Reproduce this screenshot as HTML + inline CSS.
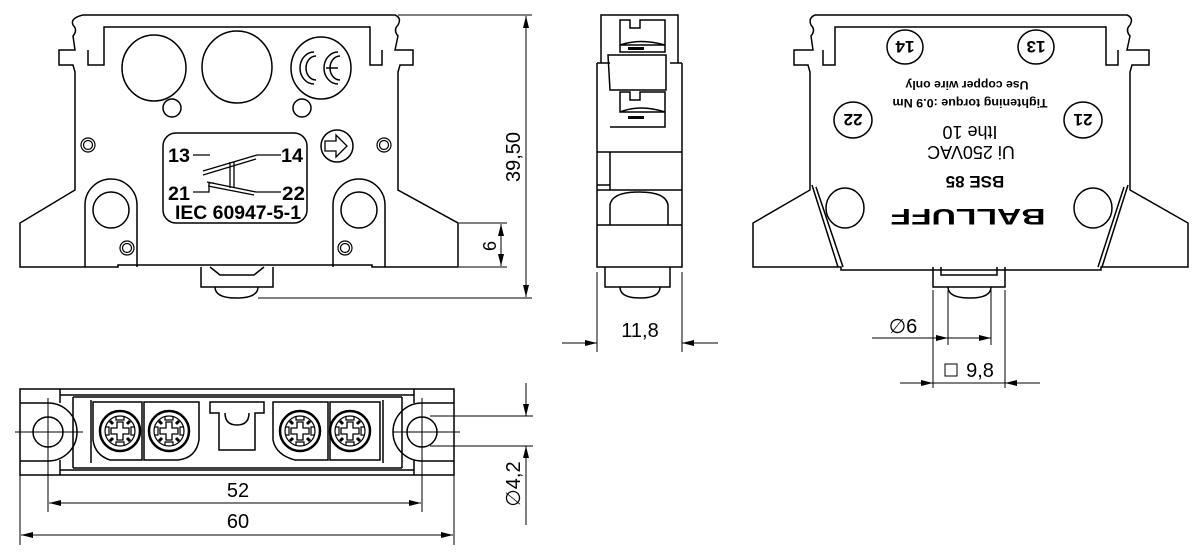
<!DOCTYPE html>
<html><head><meta charset="utf-8"><style>
html,body{margin:0;padding:0;background:#fff;}
svg{display:block;}
text{font-family:"Liberation Sans",sans-serif;}
</style></head><body>
<svg width="1200" height="558" viewBox="0 0 1200 558" xmlns="http://www.w3.org/2000/svg">
<defs>
<marker id="a" viewBox="0 0 12 6" refX="12" refY="3" markerWidth="12" markerHeight="6" orient="auto-start-reverse" markerUnits="userSpaceOnUse"><path d="M0,0 L12,3 L0,6 z" fill="#000"/></marker>
<g id="screw">
<circle r="20" fill="none" stroke="#000" stroke-width="2.5"/>
<circle r="15" fill="none" stroke="#000" stroke-width="1.2"/>
<path d="M-4,-15 V-11 H4 V-15 M-4,15 V11 H4 V15 M-15,-4 H-11 V4 H-15 M15,-4 H11 V4 H15" fill="none" stroke="#000" stroke-width="1.2"/>
<path d="M-10,-10 L-7,-7 M10,-10 L7,-7 M-10,10 L-7,7 M10,10 L7,7" stroke="#000" stroke-width="3"/>
<path d="M-3,-9 H3 V-3 H9 V3 H3 V9 H-3 V3 H-9 V-3 H-3 Z" fill="none" stroke="#000" stroke-width="1.3"/>
</g>
<g id="dc"><circle r="7" fill="none" stroke="#000" stroke-width="1.2"/><circle r="4.5" fill="none" stroke="#000" stroke-width="1.2"/></g>
</defs>
<g fill="none" stroke="#000" stroke-width="1.5">
<path d="M83,15 H395 Q402,18 398,25 Q393,30 398,36 L395,50 H413 V65 H400 L398,72 V190 L458,223 V267 H372 V265 H118 V267 H20 V223 L75,190 V72 L73,65 H59 V50 H75 L73,36 Q78,30 73,25 Q70,18 83,15 Z"/>
<path d="M88,50 V65 H104 V27 H370 V65 H382 V50"/>
<path d="M85,267 V205 A26,26 0 0 1 137,205 V267 M333,267 V205 A26,26 0 0 1 385,205 V267"/>
<circle cx="111" cy="210" r="18"/><circle cx="359" cy="210" r="18"/>
<ellipse cx="154" cy="68" rx="32" ry="33"/><ellipse cx="237" cy="67" rx="35" ry="36"/><ellipse cx="321" cy="68" rx="30" ry="31"/>
<path d="M314,52 A14,16 0 1 0 314,84 M316,56 A10,12 0 1 0 316,80 M338,52 A14,16 0 1 0 338,84 M340,56 A10,12 0 1 0 340,80 M326,68 H338"/>
<circle cx="172" cy="108" r="9"/><circle cx="302" cy="108" r="9"/>
<rect x="163" y="133" width="144" height="90" rx="13"/>
<circle cx="337" cy="146" r="16"/>
<path d="M325,141 H336 V135 L347,146 L336,157 V151 H325 Z" stroke-width="1.3"/>
<path d="M201,267 V287 H273 V267 M210,267 L220,275 H254 L264,267"/>
<path d="M215,287 Q215,298 236,298 Q258,298 258,287"/>
<path d="M193,155 H210 M257,155 H281 M203,171 L257,155 M203,175 L256,159 M193,192 H209 V183 H214 M207,182 L256,192 H281 M208,186 L254,195 M230,162 V188 M234,162 V188" stroke-width="1.3"/>
</g>
<use href="#dc" x="88" y="145"/><use href="#dc" x="384" y="145"/><use href="#dc" x="127" y="248"/><use href="#dc" x="345" y="248"/>
<g font-weight="bold" font-size="19" fill="#000">
<text x="168" y="162" textLength="22" lengthAdjust="spacingAndGlyphs">13</text>
<text x="281" y="162" textLength="22" lengthAdjust="spacingAndGlyphs">14</text>
<text x="168" y="200" textLength="22" lengthAdjust="spacingAndGlyphs">21</text>
<text x="282" y="200" textLength="23" lengthAdjust="spacingAndGlyphs">22</text>
<text x="175" y="219" textLength="126" lengthAdjust="spacingAndGlyphs">IEC  60947-5-1</text>
</g>
<g stroke="#000" stroke-width="1" fill="none">
<path d="M398,15 H532 M258,298 H532 M459,223 H507 M459,267 H507"/>
<path d="M526,16 V297" marker-start="url(#a)" marker-end="url(#a)"/>
<path d="M501,224 V266" marker-start="url(#a)" marker-end="url(#a)"/>
</g>
<text transform="translate(520,157) rotate(-90)" text-anchor="middle" font-size="20" font-weight="100" fill="#000">39,50</text>
<text transform="translate(496,246) rotate(-90)" text-anchor="middle" font-size="18" fill="#000">6</text>

<g fill="none" stroke="#000" stroke-width="1.5">
<path d="M597,63 V267 H682 V63 M601,63 V15 H678 V63"/>
<path d="M597,152 H682 M597,190 H682 M597,225 H682 M597,63 H610 M670,63 H682 M610,152 V190 M597,185 H610"/>
<path d="M610,225 V205 Q612,192 639,192 Q666,192 668,205 V225"/>
<path d="M620,20 H630 V28 H640 V20 H665 V45 H620 Z M620,45 Q640,38 665,45 L665,52 H620 Z"/>
<path d="M620,92 H630 V100 H640 V92 H665 V112 H620 Z M620,112 Q640,104 665,112 L665,127 H610 M608,55 H666 V90 H610 Z"/>
<path d="M605,267 V287 H670 V267 M620,287 Q620,298 640,298 Q660,298 660,287"/>
</g>
<rect x="628" y="47" width="16" height="3" fill="#000"/><rect x="628" y="116" width="16" height="3" fill="#000"/>
<g stroke="#000" stroke-width="1" fill="none">
<path d="M597,272 V352 M682,272 V352 M562,343 H597 M682,343 H718"/>
<path d="M577,343 H597" marker-end="url(#a)"/><path d="M703,343 H682" marker-end="url(#a)"/>
</g>
<text x="640" y="337" text-anchor="middle" font-size="20" font-weight="100" fill="#000">11,8</text>

<g fill="none" stroke="#000" stroke-width="1.5">
<path d="M815,15 H1127 Q1134,18 1130,25 Q1125,30 1130,36 L1127,50 H1149 V65 H1132 L1130,72 V190 L1188,223 V267 H1101 V270 H841 V267 H753 V223 L810,190 V72 L808,65 H794 V50 H813 L811,36 Q816,30 811,25 Q808,18 815,15 Z"/>
<path d="M823,50 V65 H835 V27 H1106 V65 H1118 V50"/>
<path d="M812,185 L838,267 M816,187 L843,267 M1128,185 L1102,267 M1124,187 L1098,267"/>
<ellipse cx="905" cy="47" rx="18" ry="17"/><ellipse cx="1036" cy="47" rx="18" ry="17"/>
<ellipse cx="853" cy="120" rx="19" ry="18"/><ellipse cx="1083" cy="120" rx="19" ry="18"/>
<ellipse cx="845" cy="208" rx="19" ry="20"/><ellipse cx="1093" cy="208" rx="19" ry="20"/>
<path d="M933,267 V287 H1005 V267 M941,267 V275 H997 V267"/>
<path d="M948,287 Q948,298 970,298 Q991,298 991,287"/>
</g>
<g fill="#000" text-anchor="middle" font-weight="bold">
<text transform="translate(905,47) rotate(180)" dy="6" font-size="17">14</text>
<text transform="translate(1036,47) rotate(180)" dy="6" font-size="17">13</text>
<text transform="translate(853,120) rotate(180)" dy="6" font-size="17">22</text>
<text transform="translate(1083,120) rotate(180)" dy="6" font-size="17">21</text>
<text transform="translate(967,85) rotate(180)" dy="4" font-size="12" textLength="123" lengthAdjust="spacingAndGlyphs">Use copper wire only</text>
<text transform="translate(970,103) rotate(180)" dy="4" font-size="12" textLength="155" lengthAdjust="spacingAndGlyphs">Tightening torque :0.9 Nm</text>
<text transform="translate(970,132) rotate(180)" dy="6" font-size="18" font-weight="normal">Ithe 10</text>
<text transform="translate(971,152) rotate(180)" dy="6" font-size="18" font-weight="normal">Ui 250VAC</text>
<text transform="translate(975,182) rotate(180)" dy="6" font-size="17">BSE 85</text>
<text transform="translate(968,217) rotate(180)" dy="8" font-size="22" font-weight="900" textLength="155" lengthAdjust="spacingAndGlyphs">BALLUFF</text>
</g>
<g stroke="#000" stroke-width="1" fill="none">
<path d="M948,290 V345 M991,290 V345 M933,290 V388 M1005,290 V388"/>
<path d="M872,338 H991"/><path d="M930,338 H948" marker-end="url(#a)"/><path d="M979,338 H991" marker-end="url(#a)"/>
<path d="M900,383 H1040"/><path d="M915,383 H933" marker-end="url(#a)"/><path d="M1023,383 H1005" marker-end="url(#a)"/>
</g>
<text x="903" y="333" text-anchor="middle" font-size="20" font-weight="100" fill="#000">∅6</text>
<rect x="945" y="364" width="12" height="12" fill="none" stroke="#000" stroke-width="1"/>
<text x="980" y="377" text-anchor="middle" font-size="20" font-weight="100" fill="#000">9,8</text>

<g fill="none" stroke="#000" stroke-width="1.5">
<rect x="20" y="389" width="434" height="86"/>
<path d="M60,389 V403 M414,389 V403 M60,460 V475 M414,460 V475"/>
<path d="M20,403 H48 A29,29 0 0 1 48,461 H20 M454,403 H422 A29,29 0 0 0 422,461 H454"/>
<circle cx="48" cy="432" r="15"/><circle cx="422" cy="432" r="15"/>
<path d="M60,395 H414 M73,397 H402 M73,468 H402 M60,470 H414 M73,397 V468 M402,397 V468 M91,400 V463 M383,400 V463"/>
<path d="M93,402 H142 V460 H110 Q95,455 93,440 Z M144,402 H199 V440 Q196,458 178,460 H144 Z"/>
<path d="M273,402 H328 V460 H295 Q276,455 273,440 Z M330,402 H380 V460 H330 Z"/>
<path d="M210,402 H264 V413 H255 V450 H219 V413 H210 Z M225,413 Q225,425 237,425 Q249,425 249,413"/>
</g>
<use href="#screw" x="120" y="431"/><use href="#screw" x="169" y="431"/><use href="#screw" x="300" y="431"/><use href="#screw" x="350" y="431"/>
<g stroke="#000" stroke-width="1" fill="none">
<path d="M15,432 H83 M393,432 H460 M48,398 V512 M422,398 V512 M20,475 V545 M454,475 V545"/>
<path d="M49,503 H421" marker-start="url(#a)" marker-end="url(#a)"/>
<path d="M21,535 H453" marker-start="url(#a)" marker-end="url(#a)"/>
<path d="M430,416 H533 M430,446 H533 M526,383 V416 M526,446 V525"/>
<path d="M526,398 V416" marker-end="url(#a)"/><path d="M526,464 V446" marker-end="url(#a)"/>
</g>
<text x="238" y="497" text-anchor="middle" font-size="20" font-weight="100" fill="#000">52</text>
<text x="238" y="528" text-anchor="middle" font-size="20" font-weight="100" fill="#000">60</text>
<text transform="translate(520,484) rotate(-90)" text-anchor="middle" font-size="20" font-weight="100" fill="#000">∅4,2</text>
</svg>
</body></html>
